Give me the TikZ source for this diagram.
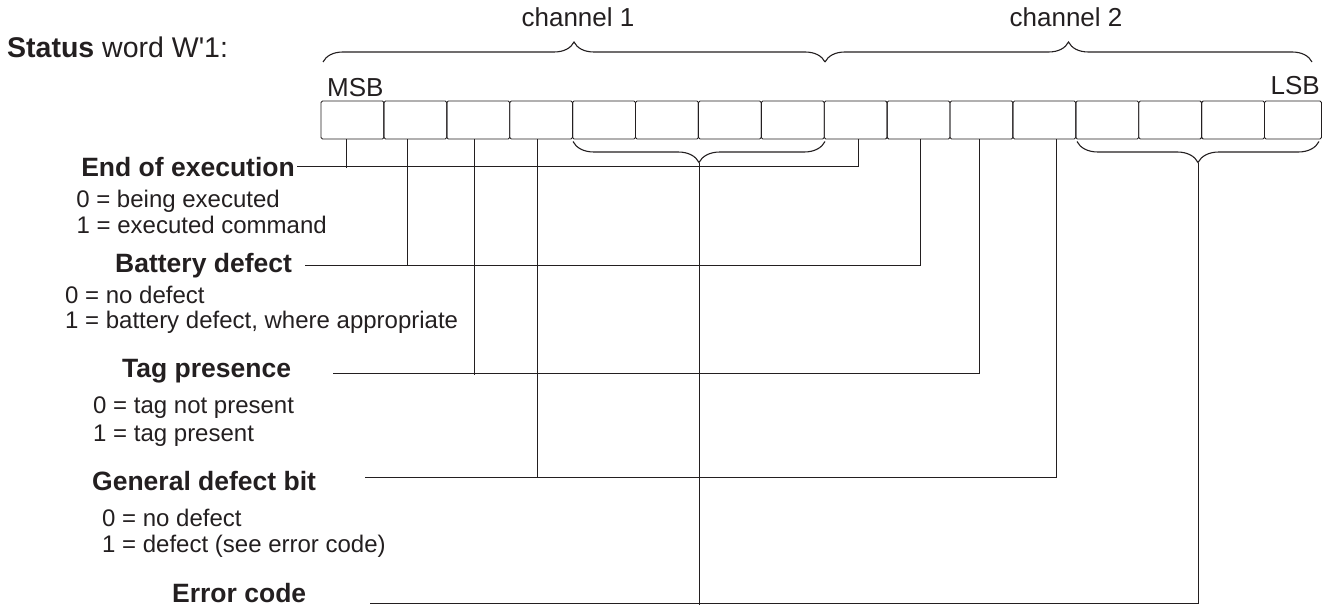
\documentclass[tikz,border=0pt]{standalone}
\usepackage{fontspec}
\setmainfont{Liberation Sans}
\newfontfamily\rawsans{Liberation Sans}
\usetikzlibrary{decorations.pathreplacing,calc}
\definecolor{ink}{HTML}{231F20}
\begin{document}
\begin{tikzpicture}[x=1pt,y=-1pt,
  bitbox/.style={draw=ink, line width=0.9pt, rounded corners=1.5pt, minimum width=62.9pt, minimum height=38pt, inner sep=0pt, outer sep=0pt, anchor=north west},
  lbl/.style={inner sep=0pt, text=ink, font=\fontsize{26.5}{30}\selectfont\bfseries},
  val/.style={inner sep=0pt, text=ink, font=\fontsize{24}{28}\selectfont},
  hdr/.style={inner sep=0pt, text=ink, font=\fontsize{26}{30}\selectfont},
  ttl/.style={inner sep=0pt, text=ink, font=\fontsize{28.5}{32}\selectfont},
  wire/.style={draw=ink, line width=0.9pt},
  upbrace/.style={draw=ink, decorate, decoration={brace, amplitude=20pt}, line width=1.1pt},
  lowbrace/.style={draw=ink, decorate, decoration={brace, amplitude=21pt, mirror}, line width=1.1pt},
]
\useasboundingbox (0,0) rectangle (1332,607);

% title
\node[ttl, anchor=base west] (title) at (7,58) {\textbf{Status} word W{\rawsans '}1:};

% bit boxes
\foreach \i in {0,...,14} {
  \node[bitbox] (b\i) at ({321+62.9*\i},101) {};
}
\node[bitbox, minimum width=57pt] (b15) at (1264.5,101) {};

\node[hdr, anchor=base west] (msb) at (327,97) {MSB};
\node[hdr, anchor=base east] (lsb) at (1320,95) {LSB};

% channel braces
\coordinate (c1a) at (323,62);
\coordinate (c1b) at (825,62);
\coordinate (c2a) at (825,62);
\coordinate (c2b) at (1312,62);
\draw[upbrace] (c1a) -- (c1b);
\draw[upbrace] (c2a) -- (c2b);
\node[hdr, anchor=base] (ch1) at (578,27) {channel 1};
\node[hdr, anchor=base] (ch2) at (1066,27) {channel 2};

% lower braces (error code bits)
\coordinate (e1a) at (573,141.5);
\coordinate (e1b) at (825,141.5);
\coordinate (e2a) at (1077,141.5);
\coordinate (e2b) at (1319,141.5);
\draw[lowbrace] (e1a) -- (e1b);
\draw[lowbrace] (e2a) -- (e2b);
\coordinate (t1) at (699,162.5);
\coordinate (t2) at (1198,162.5);

% labels
\node[lbl, anchor=base east] (eoe) at (295,176) {End of execution};
\node[val, anchor=base east] (eoe0) at (280,207) {0 = being executed};
\node[val, anchor=base east] (eoe1) at (327,233) {1 = executed command};

\node[lbl, anchor=base west] (bat) at (115,272) {Battery defect};
\node[val, anchor=base west] (bat0) at (65,303) {0 = no defect};
\node[val, anchor=base west] (bat1) at (65,328) {1 = battery defect, where appropriate};

\node[lbl, anchor=base west] (tag) at (122,377) {Tag presence};
\node[val, anchor=base west] (tag0) at (93,413) {0 = tag not present};
\node[val, anchor=base west] (tag1) at (93,441) {1 = tag present};

\node[lbl, anchor=base west] (gen) at (92,490) {General defect bit};
\node[val, anchor=base west] (gen0) at (102,526) {0 = no defect};
\node[val, anchor=base west] (gen1) at (102,552) {1 = defect (see error code)};

\node[lbl, anchor=base west] (err) at (172,602) {Error code};

% line starts
\coordinate (s0) at (297,166);
\coordinate (s1) at (305,265);
\coordinate (s2) at (333,373);
\coordinate (s3) at (365,477);
\coordinate (s4) at (370,603);

% connectors
\draw[wire] (s0) -| ([xshift=2.35pt]b8.south);
\draw[wire] ([xshift=-6.45pt]b0.south) -- ([xshift=-6.45pt,yshift=-29pt]b0.south);

\draw[wire] (s1) -| ([xshift=1.45pt]b9.south);
\draw[wire] ([xshift=-8.35pt]b1.south) -- ([xshift=-8.35pt]b1.south |- s1);

\draw[wire] (s2) -| ([xshift=-2.45pt]b10.south);
\draw[wire] ([xshift=-4.25pt]b2.south) -- ([xshift=-4.25pt,yshift=-2pt]b2.south |- s2);

\draw[wire] (s3) -| ([xshift=11.65pt]b11.south);
\draw[wire] ([xshift=-4.15pt]b3.south) -- ([xshift=-4.15pt,yshift=-1pt]b3.south |- s3);

\draw[wire] (s4) -| (t2);
\draw[wire] (t1) -- ([yshift=-2pt]t1 |- s4);
\end{tikzpicture}
\end{document}
